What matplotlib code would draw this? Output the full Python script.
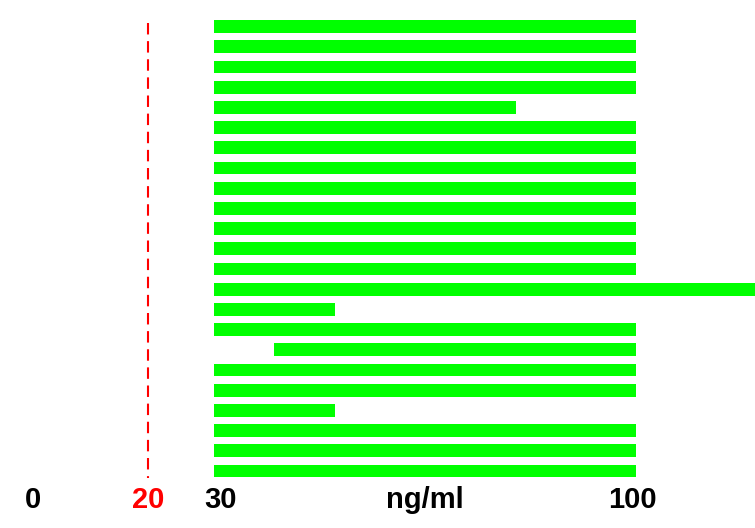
import matplotlib.pyplot as plt

# bar data, top to bottom (ng/ml)
starts = [30, 30, 30, 30, 30, 30, 30, 30, 30, 30, 30, 30, 30,
          30, 30, 30, 40, 30, 30, 30, 30, 30, 30]
ends = [100, 100, 100, 100, 80, 100, 100, 100, 100, 100, 100, 100, 100,
        120, 50, 100, 100, 100, 100, 50, 100, 100, 100]
cutoff = 19
tick_values = [0, cutoff, 31, 99.4]
tick_labels = ['0', '20', '30', '100']
tick_colors = ['black', 'red', 'black', 'black']
unit = 'ng/ml'

fig = plt.figure(figsize=(7.55, 5.28), dpi=100)
ax = fig.add_axes([0, 1 - 485 / 528, 1, 475 / 528])

rows = list(range(len(starts)))
widths = [e - s for s, e in zip(starts, ends)]
ax.barh(rows, widths, left=starts, height=0.64, color='#00ff00', edgecolor='none')

# red dashed cutoff line
ax.vlines(cutoff, -0.2, len(starts) - 0.65, colors='red', linewidth=1.5,
          linestyles=(0, (5.5, 3.2)))

ax.set_xlim(-5.5, 119.7)
ax.set_ylim(-0.82 + 475 / 20.2, -0.82)
ax.set_xticks([])
ax.set_yticks([])
for s in ax.spines.values():
    s.set_visible(False)

# labels under the bars
tr = ax.get_xaxis_transform()
for v, lab, c in zip(tick_values, tick_labels, tick_colors):
    ax.text(v, -0.0484, lab, transform=tr, ha='center', va='baseline', color=c,
            fontsize=21, fontweight='bold', family='Liberation Sans')
ax.text(65, -0.0484, unit, transform=tr, ha='center', va='baseline',
        fontsize=21, fontweight='bold', family='Liberation Sans')

fig.savefig('out.png', dpi=100)
